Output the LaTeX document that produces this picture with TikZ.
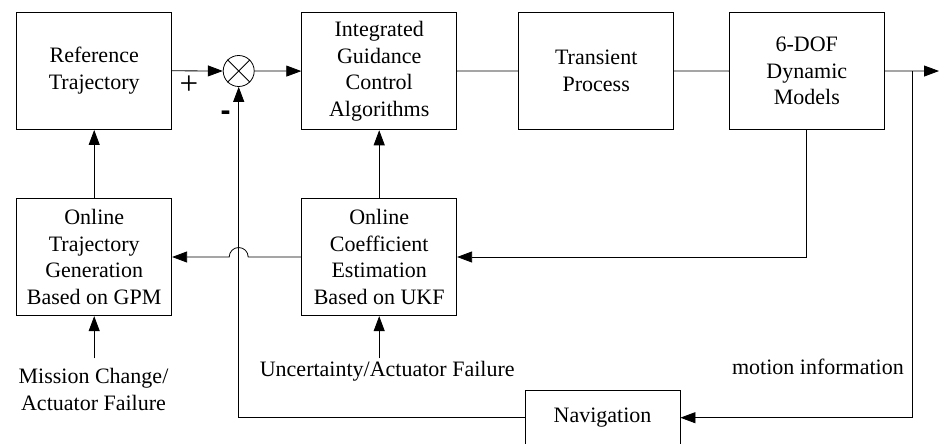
\documentclass[tikz,border=0pt]{standalone}
\usepackage{fontspec}
\setmainfont{Liberation Serif}
\newfontfamily\dashfont{Liberation Sans}
\usetikzlibrary{arrows.meta,calc}
\begin{document}
\begin{tikzpicture}[x=1pt,y=1pt,
  ln/.style={line width=0.8pt},
  box/.style={draw,ln,minimum width=155pt,minimum height=117.5pt,align=center,inner sep=2pt,font=\fontsize{22}{26.7}\selectfont},
  arr/.style={-{Triangle[length=15pt,width=11pt]}},
  lbl/.style={font=\fontsize{22}{26.7}\selectfont,align=center,inner sep=0pt}]
\useasboundingbox (0,0) rectangle (939,-444);
\clip (0,0) rectangle (939,-444);

\node[box] (ref) at (94.2,-70.8) {Reference\\Trajectory};
\node[draw,ln,circle,minimum size=31pt,inner sep=0pt] (sum) at (238.7,-71) {};
\draw[ln] (sum.north west) -- (sum.south east);
\draw[ln] (sum.north east) -- (sum.south west);
\node[box] (igc) at (379.2,-71.1) {Integrated\\Guidance\\Control\\Algorithms};
\node[box] (tp) at (596.2,-71) {Transient\\Process};
\node[box] (dof) at (806.8,-71.1) {6-DOF\\Dynamic\\Models};
\node[box] (otg) at (94.2,-257) {Online\\Trajectory\\Generation\\Based on GPM};
\node[box] (oce) at (379.2,-257) {Online\\Coefficient\\Estimation\\Based on UKF};
\node[box,minimum height=55.4pt] (nav) at (602.5,-417.7) {Navigation};

\node[lbl,font=\fontsize{33}{36}\selectfont] (plus) at (189,-85.5) {+};
\node[lbl,font=\fontsize{30}{32}\selectfont\dashfont\bfseries] (minus) at (225.5,-115.5) {-};

\node[lbl] (mct) at (93.5,-389.5) {Mission Change/\\Actuator Failure};
\node[lbl,anchor=base] (uaf) at (387.2,-376.7) {Uncertainty/Actuator Failure};
\node[lbl,anchor=base east] (mi) at (904,-374.3) {motion information};

\coordinate (mcin) at (94.2,-358.3);
\coordinate (uain) at (379.2,-358.3);
\coordinate (br) at (912.3,-71);
\coordinate (out) at (939,-71);
\coordinate (hopR) at ($(sum.south |- oce.west)+(9.5,0)$);

\draw[ln,arr] (ref.east) -- (sum.west);
\draw[ln,arr] (sum.east) -- (igc.west);
\draw[ln] (igc.east) -- (tp.west);
\draw[ln] (tp.east) -- (dof.west);
\draw[ln,arr] (dof.east) -- (out);
\draw[ln,arr] (br) |- (nav.east);
\draw[ln,arr] (nav.west) -| (sum.south);
\draw[ln,arr] (dof.south) |- (oce.east);
\draw[ln,arr] (oce.west) -- (hopR) arc[start angle=0,end angle=180,radius=9.5] -- (otg.east);
\draw[ln,arr] (oce.north) -- (igc.south);
\draw[ln,arr] (otg.north) -- (ref.south);
\draw[ln,arr] (mcin) -- (otg.south);
\draw[ln,arr] (uain) -- (oce.south);
\end{tikzpicture}
\end{document}
